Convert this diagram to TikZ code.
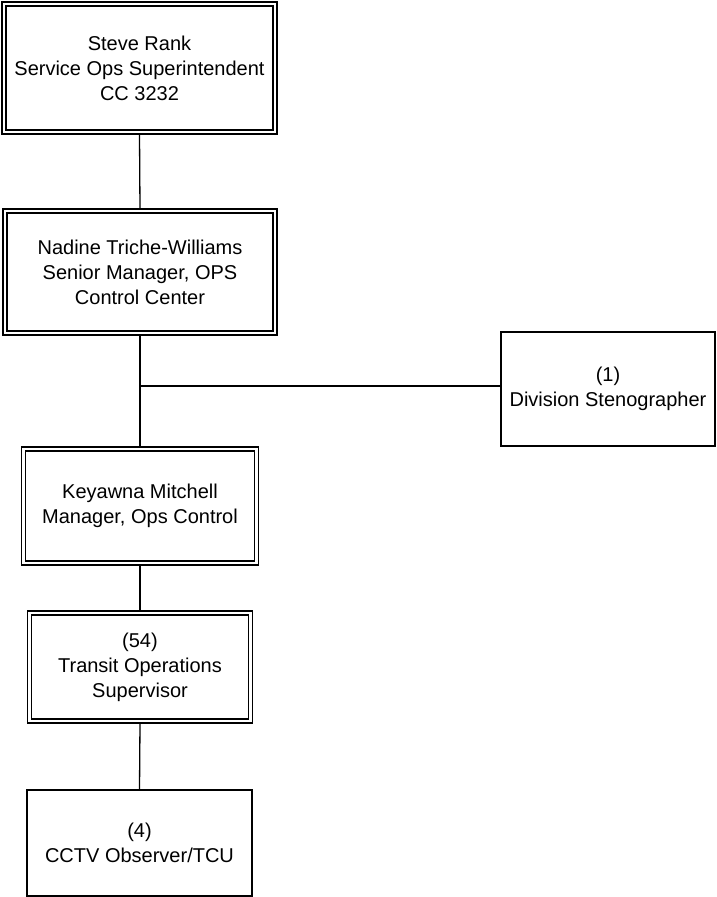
\documentclass[tikz,border=0pt]{standalone}
\usepackage{fontspec}
\setmainfont{Liberation Sans}
\begin{document}
\begin{tikzpicture}[x=1pt,y=-1pt,
  every node/.style={font=\fontsize{20}{25}\selectfont, align=center, inner sep=0pt},
  dbox/.style={draw, line width=1.1pt, double, double distance=2.9pt, outer sep=2pt},
  sbox/.style={draw, line width=1.2pt, outer sep=0pt},
  conn/.style={line width=1.3pt}]
\useasboundingbox (0,0) rectangle (717,897);
\node[dbox, minimum width=271pt, minimum height=128pt] (n1) at (139.5,68)
  {Steve Rank\\Service Ops Superintendent\\CC 3232};
\node[dbox, minimum width=270pt, minimum height=122pt] (n2) at (140,272)
  {Nadine Triche-Williams\\Senior Manager, OPS\\Control Center};
\node[sbox, minimum width=214pt, minimum height=114pt] (n3) at (608,389)
  {(1)\\Division Stenographer};
\node[dbox, minimum width=233pt, minimum height=114pt] (n4) at (140,506)
  {Keyawna Mitchell\\Manager, Ops Control};
\node[dbox, minimum width=221pt, minimum height=108pt] (n5) at (140,667)
  {(54)\\Transit Operations\\Supervisor};
\node[sbox, minimum width=225pt, minimum height=106pt] (n6) at (139.5,843)
  {(4)\\CCTV Observer/TCU};
\coordinate (j) at (140,386);
\draw[conn] (n1.south) -- (n2.north);
\draw[conn] (n2.south) -- (n4.north);
\draw[conn] (j) -- (j -| n3.west);
\draw[conn] (n4.south) -- (n5.north);
\draw[conn] (n5.south) -- (n6.north);
\end{tikzpicture}
\end{document}
